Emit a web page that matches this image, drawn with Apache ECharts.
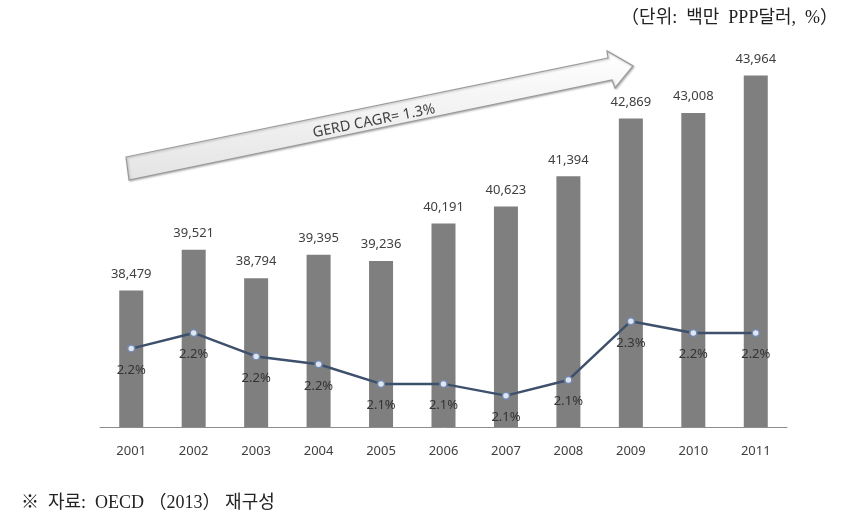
<!DOCTYPE html>
<html>
<head>
<meta charset="utf-8">
<script src="https://cdn.jsdelivr.net/npm/echarts@6/dist/echarts.min.js"></script>
<style>
html,body{margin:0;padding:0;background:#fff;}
#chart{width:854px;height:521px;}
</style>
</head>
<body>
<div id="chart"></div>
<script>
var years = ['2001','2002','2003','2004','2005','2006','2007','2008','2009','2010','2011'];
var gerd = [38479, 39521, 38794, 39395, 39236, 40191, 40623, 41394, 42869, 43008, 43964];
var ratio = [2.20, 2.24, 2.18, 2.16, 2.11, 2.11, 2.08, 2.12, 2.27, 2.24, 2.24];
var unitText = '（단위:  백만  PPP달러,  %）';
var sourceText = '※  자료:  OECD （2013） 재구성';
var arrowText = 'GERD CAGR= 1.3%';

var sans = "'Noto Sans', 'Noto Sans CJK KR', sans-serif";
var serif = "'Liberation Serif', 'DejaVu Serif', 'Noto Sans CJK KR', serif";

var chart = echarts.init(document.getElementById('chart'), null, {renderer: 'canvas'});
chart.setOption({
  backgroundColor: '#ffffff',
  animation: false,
  grid: {left: 100, right: 67, top: 35, bottom: 94},
  xAxis: {
    type: 'category',
    data: years,
    axisLine: {show: true, lineStyle: {color: '#8c8c8c', width: 1}},
    axisTick: {show: false},
    axisLabel: {color: '#404040', fontSize: 13, fontFamily: sans, margin: 18}
  },
  yAxis: [
    {type: 'value', min: 35000, max: 45000, show: false, splitLine: {show: false}},
    {type: 'value', min: 2.0, max: 3.0, show: false, splitLine: {show: false}}
  ],
  series: [
    {
      type: 'bar',
      data: gerd,
      barWidth: 24,
      itemStyle: {color: '#7f7f7f'},
      label: {
        show: true, position: 'top', distance: 10,
        color: '#404040', fontSize: 13, fontFamily: sans,
        formatter: function (p) { return p.value.toLocaleString('en-US'); }
      },
      z: 2
    },
    {
      type: 'line',
      yAxisIndex: 1,
      data: ratio,
      symbol: 'circle',
      symbolSize: 7,
      lineStyle: {color: '#3d506c', width: 2.5},
      itemStyle: {color: '#dfe6f2', borderColor: '#7388ad', borderWidth: 1.5},
      label: {
        show: true, position: 'bottom', distance: 11,
        color: '#333333', fontSize: 13, fontFamily: sans,
        formatter: function (p) { return p.value.toFixed(1) + '%'; }
      },
      z: 3
    }
  ],
  graphic: [
    {
      type: 'polygon',
      shape: {points: [[126,157],[608,58],[607,51],[633,66],[615,88],[612,80],[129,180]]},
      style: {
        fill: new echarts.graphic.LinearGradient(0, 0, 0, 1, [
          {offset: 0, color: '#ffffff'}, {offset: 1, color: '#e4e4e4'}
        ]),
        stroke: '#9a9a9a', lineWidth: 1.2,
        shadowBlur: 2, shadowColor: 'rgba(0,0,0,0.25)', shadowOffsetX: 1, shadowOffsetY: 1
      },
      z: 10
    },
    {
      type: 'text',
      x: 374, y: 121,
      rotation: 11.3 * Math.PI / 180,
      style: {
        text: arrowText, fontSize: 14.5, fontFamily: sans, fill: '#404040',
        align: 'center', verticalAlign: 'middle'
      },
      z: 11
    },
    {
      type: 'text',
      x: 838, y: 18,
      style: {text: unitText, fontSize: 18, fontFamily: serif, fill: '#222',
        align: 'right', verticalAlign: 'middle'},
      z: 11
    },
    {
      type: 'text',
      x: 21, y: 503,
      style: {text: sourceText, fontSize: 18, fontFamily: serif, fill: '#222',
        align: 'left', verticalAlign: 'middle'},
      z: 11
    }
  ]
});
</script>
</body>
</html>
